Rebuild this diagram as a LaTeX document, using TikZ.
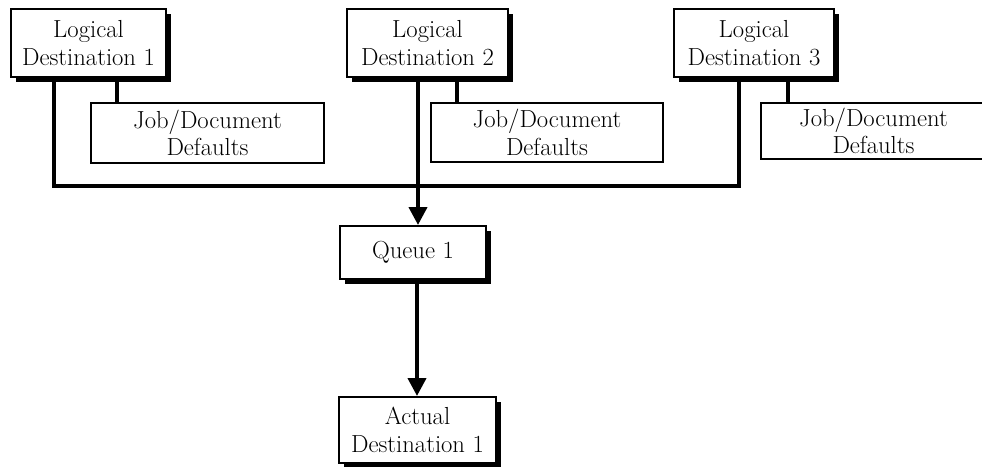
\documentclass[tikz,border=0pt]{standalone}
\usetikzlibrary{arrows.meta,shadows}
\begin{document}
\begin{tikzpicture}[x=0.75pt,y=-0.75pt,
  box/.style={draw=black,line width=1.5pt,fill=white,inner sep=0pt,align=center,
    font=\fontsize{18.5}{20.5}\selectfont},
  sbox/.style={box,drop shadow={shadow xshift=3.4pt,shadow yshift=-3.4pt,fill=black,opacity=1}},
  wire/.style={line width=3pt},
  arr/.style={wire,-{Triangle[width=13.5pt,length=13.5pt]}}]
\useasboundingbox (0,0) rectangle (982,467);
\node[sbox,minimum width=116.25pt,minimum height=51pt] (LD1) at (88.5,43) {Logical\\Destination 1};
\node[sbox,minimum width=120.75pt,minimum height=51pt] (LD2) at (427.5,43) {Logical\\Destination 2};
\node[sbox,minimum width=120pt,minimum height=51pt] (LD3) at (754,43) {Logical\\Destination 3};
\node[box,minimum width=174.75pt,minimum height=45pt] (JD1) at (207.5,133) {Job/Document\\Defaults};
\node[box,minimum width=174pt,minimum height=44.25pt] (JD2) at (547,132.5) {Job/Document\\Defaults};
\node[box,minimum width=168.75pt,minimum height=42pt] (JD3) at (873.5,131) {Job/Document\\Defaults};
\node[sbox,minimum width=109.5pt,minimum height=39.75pt] (Q) at (413,252.5) {Queue 1};
\node[sbox,minimum width=117.75pt,minimum height=49.5pt] (AD) at (417.5,430) {Actual\\Destination 1};
\coordinate (b1) at (54,186);
\coordinate (b3) at (739,186);
\coordinate (m2) at (418,186);
\coordinate (qx) at (417,300);
\draw[wire] (LD1.south -| b1) -- (b1) -- (b3) -- (LD3.south -| b3);
\draw[arr] (LD2.south -| m2) -- (Q.north -| m2);
\draw[arr] (Q.south -| qx) -- (AD.north -| qx);
\coordinate (j1) at (117,90);
\coordinate (j2) at (457,90);
\coordinate (j3) at (788,90);
\draw[wire] (LD1.south -| j1) -- (JD1.north -| j1);
\draw[wire] (LD2.south -| j2) -- (JD2.north -| j2);
\draw[wire] (LD3.south -| j3) -- (JD3.north -| j3);
\end{tikzpicture}
\end{document}
